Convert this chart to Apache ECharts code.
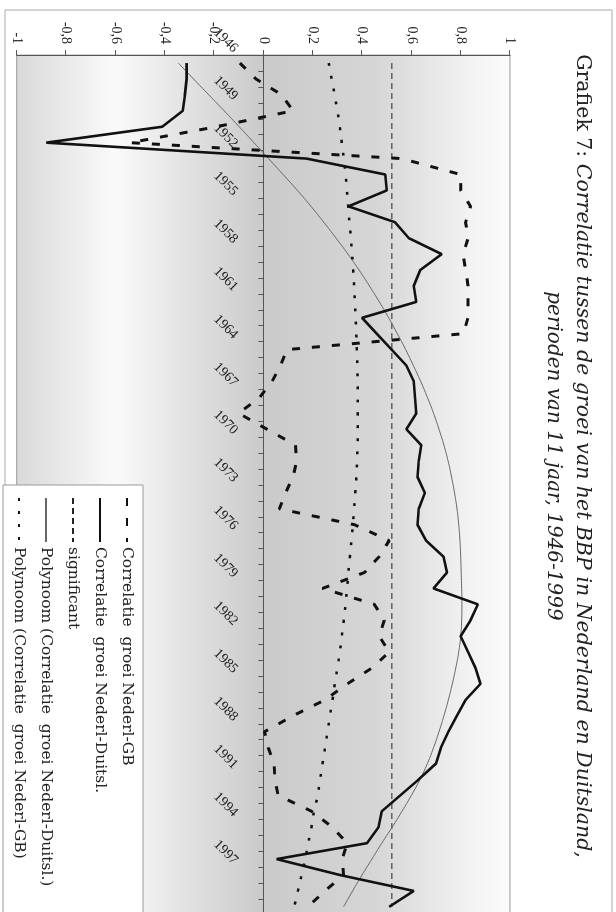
<!DOCTYPE html>
<html>
<head>
<meta charset="utf-8">
<script src="https://cdn.jsdelivr.net/npm/echarts@6/dist/echarts.min.js"></script>
<style>
  html, body { margin: 0; padding: 0; background: #ffffff; width: 616px; height: 912px; overflow: hidden; }
  #chart { position: absolute; left: 0; top: 0; width: 912px; height: 616px;
           transform-origin: 0 0; transform: translate(616px, 0) rotate(90deg); }
</style>
</head>
<body>
<div id="chart"></div>
<script>
// ---- data ----
const years = ['1946','1947','1948','1949','1950','1951','1952','1953','1954','1955',
  '1956','1957','1958','1959','1960','1961','1962','1963','1964','1965',
  '1966','1967','1968','1969','1970','1971','1972','1973','1974','1975',
  '1976','1977','1978','1979','1980','1981','1982','1983','1984','1985',
  '1986','1987','1988','1989','1990','1991','1992','1993','1994','1995',
  '1996','1997','1998','1999'];

const corrGB = [-0.095,-0.03,0.075,0.12,-0.19,-0.54,0.56,0.80,0.80,0.84,
  0.82,0.83,0.81,0.82,0.83,0.83,0.83,0.81,0.095,0.07,
  0.035,-0.015,-0.10,0.015,0.13,0.135,0.12,0.09,0.065,0.37,
  0.51,0.47,0.41,0.24,0.45,0.49,0.47,0.51,0.44,0.34,
  0.25,0.12,0.005,0.02,0.043,0.047,0.06,0.196,0.28,0.34,
  0.32,0.325,0.25,0.18];

const corrDE = [-0.311,-0.311,-0.318,-0.327,-0.41,-0.88,0.175,0.494,0.50,0.345,
  0.534,0.59,0.723,0.636,0.61,0.62,0.40,0.46,0.52,0.58,
  0.61,0.615,0.62,0.58,0.64,0.63,0.625,0.655,0.63,0.625,
  0.66,0.73,0.745,0.69,0.87,0.84,0.80,0.83,0.86,0.88,
  0.82,0.785,0.75,0.72,0.70,0.63,0.555,0.48,0.467,0.42,
  0.054,0.31,0.61,0.51];

const significant = [0.521,0.521,0.521,0.521,0.521,0.521,0.521,0.521,0.521,0.521,
  0.521,0.521,0.521,0.521,0.521,0.521,0.521,0.521,0.521,0.521,
  0.521,0.521,0.521,0.521,0.521,0.521,0.521,0.521,0.521,0.521,
  0.521,0.521,0.521,0.521,0.521,0.521,0.521,0.521,0.521,0.521,
  0.521,0.521,0.521,0.521,0.521,0.521,0.521,0.521,0.521,0.521,
  0.521,0.521,0.521,0.521];

const polyDE = [-0.345,-0.283,-0.221,-0.159,-0.098,-0.038,0.021,0.08,0.138,0.193,
  0.245,0.295,0.343,0.388,0.43,0.47,0.508,0.543,0.577,0.608,
  0.638,0.665,0.69,0.712,0.732,0.749,0.763,0.775,0.785,0.792,
  0.797,0.80,0.802,0.804,0.805,0.804,0.80,0.792,0.78,0.766,
  0.75,0.732,0.712,0.69,0.665,0.635,0.60,0.562,0.522,0.48,
  0.44,0.40,0.362,0.325];

const polyGB = [0.265,0.277,0.289,0.30,0.31,0.318,0.326,0.333,0.339,0.344,
  0.349,0.355,0.36,0.364,0.368,0.371,0.374,0.377,0.379,0.381,
  0.382,0.383,0.383,0.383,0.382,0.38,0.377,0.373,0.368,0.363,
  0.357,0.351,0.345,0.339,0.333,0.326,0.318,0.31,0.30,0.29,
  0.28,0.27,0.26,0.25,0.24,0.23,0.22,0.205,0.195,0.182,
  0.17,0.155,0.14,0.125];

const valueTickLabels = ['-1','-0,8','-0,6','-0,4','-0,2','0','0,2','0,4','0,6','0,8','1'];

const seriesNames = ['Correlatie  groei Nederl-GB', 'Correlatie  groei Nederl-Duitsl.', 'significant',
  'Polynoom (Correlatie  groei Nederl-Duitsl.)', 'Polynoom (Correlatie  groei Nederl-GB)'];

// ---- chart ----
const chart = echarts.init(document.getElementById('chart'), null, { renderer: 'canvas' });
const serif = 'Liberation Serif';
const serif2 = 'DejaVu Serif';

const gridTop = 106, gridHeight = 493.3;

const option = {
  backgroundColor: '#ffffff',
  animation: false,
  title: [
    {
      text: '{n|Grafiek 7: }{i|Correlatie tussen de groei van het BBP in Nederland en Duitsland,}',
      left: 'center', top: 18,
      textStyle: {
        fontWeight: 'normal',
        rich: {
          n: { fontFamily: serif2, fontSize: 20.5, fontWeight: 'normal', color: '#222' },
          i: { fontFamily: serif2, fontSize: 20.5, fontStyle: 'italic', fontWeight: 'normal', color: '#222' }
        }
      }
    },
    {
      text: 'perioden van 11 jaar, 1946-1999',
      left: 'center', top: 48,
      textStyle: { fontFamily: serif2, fontSize: 20, fontStyle: 'italic', fontWeight: 'normal', color: '#222' }
    }
  ],
  graphic: [
    { type: 'rect', z: -10, silent: true,
      shape: { x: 10, y: 4, width: 930, height: 607 },
      style: { fill: 'none', stroke: '#aaaaaa', lineWidth: 1 } }
  ],
  legend: {
    orient: 'vertical', left: 485, top: 473,
    padding: [8, 60, 8, 12],
    itemGap: 11, itemWidth: 44, itemHeight: 14,
    backgroundColor: '#ffffff', borderColor: '#999999', borderWidth: 1,
    itemStyle: { opacity: 0 },
    textStyle: { fontFamily: serif2, fontSize: 15.5, color: '#222', lineHeight: 16 },
    data: seriesNames
  },
  grid: {
    left: 55.1, top: gridTop, width: 859.7, height: gridHeight,
    containLabel: false, outerBoundsMode: 'none',
    show: true, borderColor: '#999999', borderWidth: 1,
    backgroundColor: new echarts.graphic.LinearGradient(0, 0, 0, 1, [
      { offset: 0, color: '#fbfbfb' },
      { offset: 0.08, color: '#f3f3f3' },
      { offset: 0.27, color: '#d6d6d6' },
      { offset: 0.5, color: '#cacaca' },
      { offset: 0.68, color: '#e6e6e6' },
      { offset: 0.8, color: '#fafafa' },
      { offset: 1, color: '#d9d9d9' }
    ])
  },
  xAxis: {
    type: 'category',
    data: years,
    boundaryGap: true,
    position: 'bottom',
    offset: -gridHeight / 2,
    axisLine: { onZero: false, lineStyle: { color: '#555555', width: 1 } },
    axisTick: { show: true, interval: 0, length: 5, lineStyle: { color: '#555555' } },
    axisLabel: {
      interval: 2, rotate: 45, margin: 15,
      padding: [0, 18, 0, 0],
      fontFamily: serif, fontSize: 14, color: '#222'
    },
    splitLine: { show: false }
  },
  yAxis: {
    type: 'value', min: -1, max: 1, interval: 0.2,
    axisLine: { show: true, lineStyle: { color: '#555555' } },
    axisTick: { show: true, length: 5, lineStyle: { color: '#555555' } },
    axisLabel: {
      margin: 11, fontFamily: serif, fontSize: 14, color: '#222',
      formatter: function (v) { return valueTickLabels[Math.round((v + 1) * 5)]; }
    },
    splitLine: { show: false }
  },
  series: [
    { name: seriesNames[0], type: 'line', data: corrGB, symbol: 'none', z: 3,
      itemStyle: { color: '#111111' },
      lineStyle: { color: '#111111', width: 3, type: [8, 12] } },
    { name: seriesNames[1], type: 'line', data: corrDE, symbol: 'none', z: 4,
      itemStyle: { color: '#111111' },
      lineStyle: { color: '#111111', width: 2.6, type: 'solid' } },
    { name: seriesNames[2], type: 'line', data: significant, symbol: 'none', z: 2,
      itemStyle: { color: '#222222' },
      lineStyle: { color: '#222222', width: 1, type: [6, 4] } },
    { name: seriesNames[3], type: 'line', data: polyDE, symbol: 'none', smooth: true, z: 2,
      itemStyle: { color: '#666666' },
      lineStyle: { color: '#666666', width: 1, type: 'solid' } },
    { name: seriesNames[4], type: 'line', data: polyGB, symbol: 'none', smooth: true, z: 2,
      itemStyle: { color: '#111111' },
      lineStyle: { color: '#111111', width: 2.5, type: [3, 10] } }
  ]
};
chart.setOption(option);
</script>
</body>
</html>
